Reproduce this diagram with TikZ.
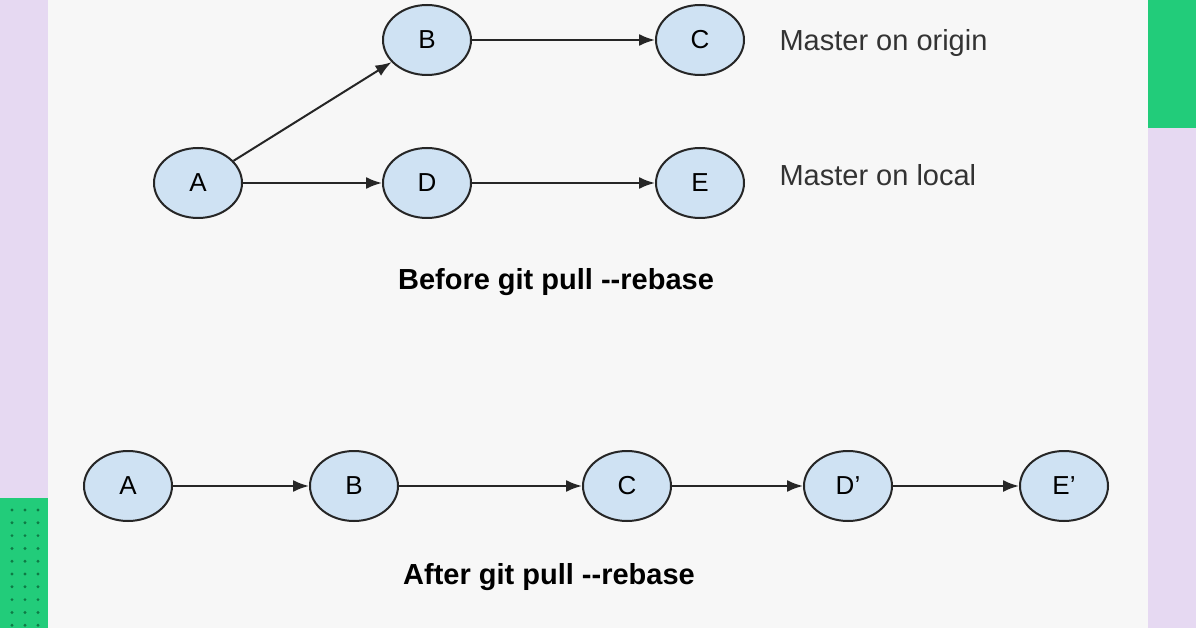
\documentclass[tikz,border=0pt]{standalone}
\usepackage{fontspec}
\setmainfont{Liberation Sans}
\usetikzlibrary{arrows.meta,shapes.geometric}
\definecolor{lav}{HTML}{E6D9F2}
\definecolor{grn}{HTML}{22CC7A}
\definecolor{dotc}{HTML}{0E7A45}
\definecolor{bgc}{HTML}{F7F7F7}
\definecolor{nodefill}{HTML}{CFE2F3}
\newcommand{\prm}{\char"0027}
\tikzset{
  commit/.style={ellipse,draw=black!85,line width=2pt,fill=nodefill,
    minimum width=88pt,minimum height=70pt,inner sep=0pt,font=\fontsize{26}{30}\selectfont},
  link/.style={-{Latex[length=16pt,width=12pt]},line width=2pt,black!85},
  caption/.style={font=\bfseries\fontsize{29}{34}\selectfont},
  branch/.style={anchor=west,font=\fontsize{29}{34}\selectfont,black!80}
}
\begin{document}
\begin{tikzpicture}[x=1pt,y=-1pt]
      \useasboundingbox (0,0) rectangle (1196,628);
      \fill[bgc] (0,0) rectangle (1196,628);
      \fill[lav] (0,0) rectangle (48,498);
      \fill[grn] (0,498) rectangle (48,628);
      \foreach \i in {0,1,2} {\foreach \j in {0,...,9}
        {\fill[dotc] (12+\i*13,510+\j*12.8) circle (1.6pt);}};
      \fill[grn] (1148,0) rectangle (1196,128);
      \fill[lav] (1148,128) rectangle (1196,628);

      %%%%  Before
      \node[commit] (a) at (198,183) {A};
      \node[commit] (b) at (427,40) {B};
      \node[commit] (c) at (700,40) {C};
      \node[commit] (d) at (427,183) {D};
      \node[commit] (e) at (700,183) {E};
      \draw[link] (a) -- (b);
      \draw[link] (b) -- (c);
      \draw[link] (a) -- (d);
      \draw[link] (d) -- (e);
      \node[branch] (origin) at (776,43) {Master on origin};
      \node[branch] (local) at (776,175) {Master on local};
      \node[caption] (before) at (556,282) {Before git pull -{}-rebase};

      %%%%  After
      \node[commit] (a2) at (128,486) {A};
      \node[commit] (b2) at (354,486) {B};
      \node[commit] (c2) at (627,486) {C};
      \node[commit] (d2) at (848,486) {D\prm};
      \node[commit] (e2) at (1064,486) {E\prm};
      \foreach \s/\t in {a2/b2,b2/c2,c2/d2,d2/e2}
        {\draw[link] (\s) -- (\t);};
      \node[caption] (after) at (549,577) {After git pull -{}-rebase};
\end{tikzpicture}
\end{document}
